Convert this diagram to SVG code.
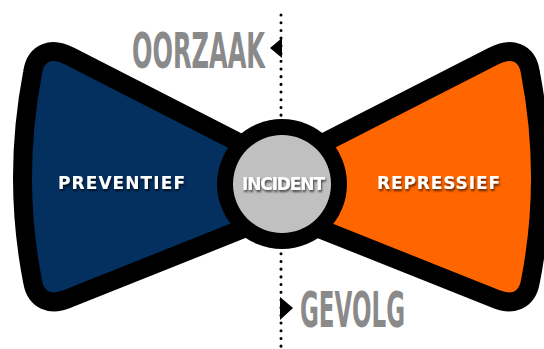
<svg xmlns="http://www.w3.org/2000/svg" width="544" height="349" viewBox="0 0 544 349">
<defs>
<filter id="sh" x="-20%" y="-50%" width="140%" height="200%">
<feDropShadow dx="1" dy="2" stdDeviation="1.3" flood-color="#000" flood-opacity="0.65"/>
</filter>
<path id="wingL" d="M252,160 L66,65 Q45,54 42,74 Q22,178 42,280 Q45,298 64,290 L252,215 Z"/>
</defs>
<style>
.border{fill:#000;stroke:#000;stroke-width:38;stroke-linejoin:round}
.lbl{font-family:"DejaVu Sans","Liberation Sans",Arial,sans-serif;font-weight:bold;font-size:17px;fill:#fff;text-anchor:middle}
.big{font-family:"DejaVu Sans Condensed","DejaVu Sans","Liberation Sans",sans-serif;font-weight:bold;font-size:49px;fill:#8a8a8a}
.tri{fill:#000}
</style>
<rect width="544" height="349" fill="#fff"/>
<g id="connectors">
<line x1="281" y1="15" x2="281" y2="349" stroke="#000" stroke-width="3" stroke-linecap="round" stroke-dasharray="0.1 7.6"/>
<polygon class="tri" points="270,48 282,38 282,58"/>
<polygon class="tri" points="293,308 280,297 280,320"/>
</g>
<g id="preventief">
<use href="#wingL" class="border"/>
<use href="#wingL" fill="#03305f"/>
<text class="lbl" x="121.5" y="189" textLength="127" lengthAdjust="spacing" filter="url(#sh)">PREVENTIEF</text>
</g>
<g id="repressief">
<use href="#wingL" class="border" transform="matrix(-1 0 0 1 563 0)"/>
<use href="#wingL" fill="#ff6600" transform="matrix(-1 0 0 1 563 0)"/>
<text class="lbl" x="438.5" y="189" textLength="123" lengthAdjust="spacing" filter="url(#sh)">REPRESSIEF</text>
</g>
<g id="incident">
<circle cx="282" cy="184" r="65" fill="#000"/>
<circle cx="282" cy="184" r="49" fill="#c0c0c0"/>
<text class="lbl" x="283.5" y="190" textLength="83" lengthAdjust="spacing" filter="url(#sh)">INCIDENT</text>
</g>
<g id="oorzaak">
<text class="big" x="132" y="68" textLength="133" lengthAdjust="spacingAndGlyphs">OORZAAK</text>
</g>
<g id="gevolg">
<text class="big" x="300" y="327" textLength="105" lengthAdjust="spacingAndGlyphs">GEVOLG</text>
</g>
</svg>
